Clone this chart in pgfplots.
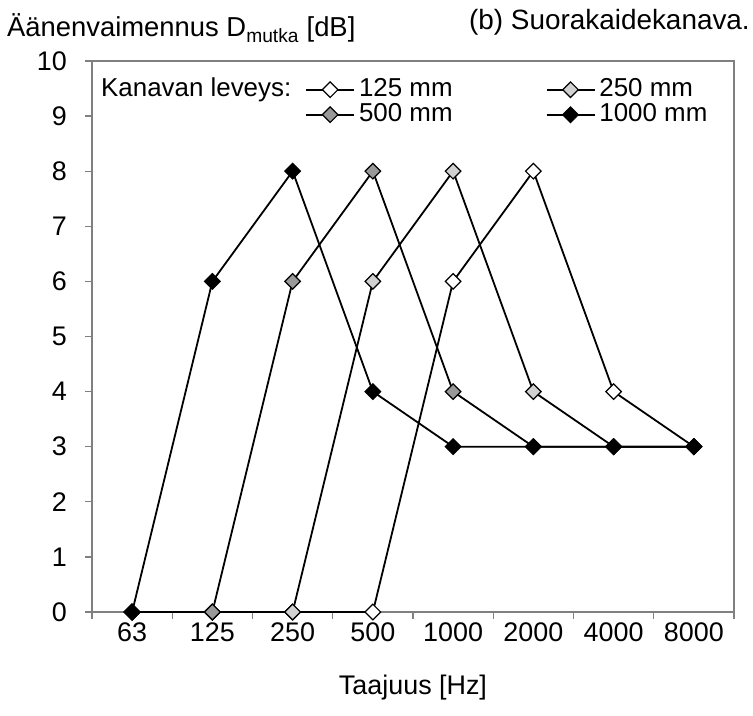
\documentclass[border=0pt]{standalone}
\usepackage{fontspec}
\setmainfont{Liberation Sans}
\usepackage{pgfplots}
\pgfplotsset{compat=1.18}

\definecolor{framegray}{gray}{0.5}
\definecolor{lightfill}{gray}{0.82}
\definecolor{midfill}{gray}{0.6}

\pgfplotsset{
  series/.style={black, line width=1.8bp, mark=square*,
    mark size=5.5bp, mark options={rotate=45, draw=black, line width=1.2bp, fill=#1}},
}

\begin{document}
\begin{tikzpicture}
\begin{axis}[
  scale only axis, width=642bp, height=551bp,
  xmin=0.5, xmax=8.5, ymin=0, ymax=10,
  xtick={1,...,8},
  xticklabels={63,125,250,500,1000,2000,4000,8000},
  minor xtick={0.5,1.5,...,8.5},
  ytick={0,...,10},
  major x tick style={draw=none},
  tick pos=left,
  tick align=outside,
  major tick length=7bp, minor tick length=7bp,
  every tick/.style={framegray, line width=1.2bp},
  axis line style={framegray, line width=1.6bp},
  /pgf/number format/assume math mode=true,
  tick label style={font=\fontsize{27}{30}\selectfont},
  yticklabel style={anchor=east, inner sep=0pt, xshift=-18bp},
  xticklabel style={anchor=base, inner sep=0pt, yshift=-22bp},
  xlabel={Taajuus [Hz]},
  xlabel style={font=\fontsize{27}{30}\selectfont, at={(axis description cs:0.5,0)},
    anchor=base, inner sep=0pt, yshift=-82bp},
  clip=false,
  legend columns=3,
  legend cell align=left,
  legend image code/.code={%
    \draw[mark repeat=2, mark phase=2] plot coordinates {(0bp,0bp) (24bp,0bp) (48bp,0bp)};},
  legend style={at={(0,1)}, anchor=north west, xshift=9bp, yshift=-17bp,
    draw=none, fill=none, inner sep=0pt, row sep=2bp,
    font=\fontsize{26}{26}\selectfont,
    nodes={inner sep=0pt, text height=18bp, text depth=5bp},
    /tikz/column 1/.style={column sep=0bp},
    /tikz/column 2/.style={column sep=14bp},
    /tikz/column 3/.style={column sep=4bp},
    /tikz/column 4/.style={column sep=93bp},
    /tikz/column 5/.style={column sep=4bp}},
]
\addlegendimage{empty legend}
\addlegendentry{Kanavan leveys:}

% 125 mm
\addplot[series=white] coordinates {(1,0) (2,0) (3,0) (4,0) (5,6) (6,8) (7,4) (8,3)};
\addlegendentry{125 mm}
% 250 mm
\addplot[series=lightfill] coordinates {(1,0) (2,0) (3,0) (4,6) (5,8) (6,4) (7,3) (8,3)};
\addlegendentry{250 mm}

\addlegendimage{empty legend}
\addlegendentry{}

% 500 mm
\addplot[series=midfill] coordinates {(1,0) (2,0) (3,6) (4,8) (5,4) (6,3) (7,3) (8,3)};
\addlegendentry{500 mm}
% 1000 mm
\addplot[series=black] coordinates {(1,0) (2,6) (3,8) (4,4) (5,3) (6,3) (7,3) (8,3)};
\addlegendentry{1000 mm}
\end{axis}

\node[anchor=base west, inner sep=0pt, font=\fontsize{27.5}{30}\selectfont]
  at (-85bp,575bp) {Äänenvaimennus D\textsubscript{mutka} [dB]};
\node[anchor=base east, inner sep=0pt, font=\fontsize{28}{30}\selectfont]
  at (658bp,582bp) {(b) Suorakaidekanava.};

\pgfresetboundingbox
\path (-92bp,-104bp) rectangle (661bp,612bp);
\end{tikzpicture}
\end{document}
